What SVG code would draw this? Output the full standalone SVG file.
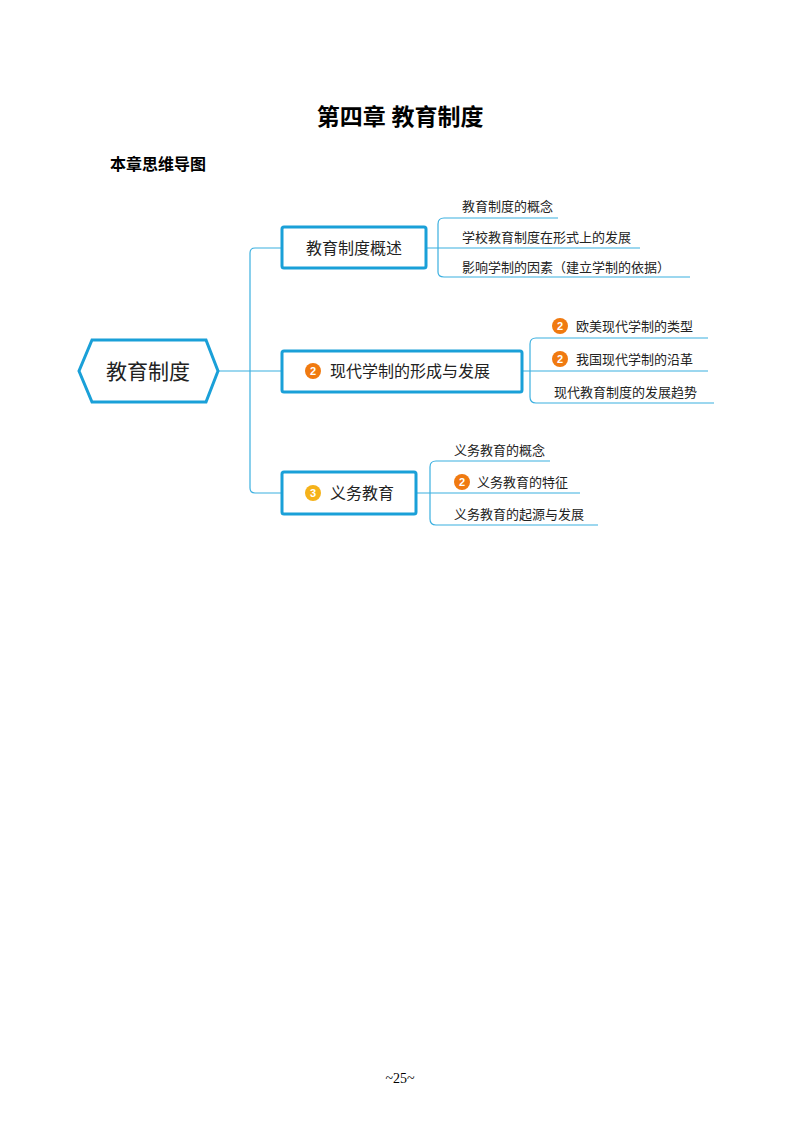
<svg xmlns="http://www.w3.org/2000/svg" width="800" height="1132" viewBox="0 0 800 1132">
<style>
.t{font-family:"Noto Sans CJK SC","Noto Sans",sans-serif;fill:#222}
.s{font-family:"Liberation Serif","Noto Sans CJK SC",serif;font-weight:bold;fill:#000}
.box{fill:#fff;stroke:#1aa0d8;stroke-width:3}
.ln{fill:none;stroke:#3bb0e0;stroke-width:1.2}
.bd{font-family:"Liberation Sans",sans-serif;font-size:11px;font-weight:bold;fill:#fff}
</style>
<rect width="800" height="1132" fill="#fff"/>
<text class="s" x="400" y="125" font-size="23" text-anchor="middle">第四章  教育制度</text>
<text class="s" x="110" y="170" font-size="16">本章思维导图</text>
<text x="400" y="1083" font-size="14" text-anchor="middle" font-family="Liberation Serif,serif">~25~</text>
<g id="connectors" class="ln">
<path d="M218 371H250M250 253Q250 248 255 248H282M250 488Q250 493 255 493H282M250 253V488M250 371H282"/>
<path d="M426 248H438M558 218H444Q438 218 438 224V272Q438 277 444 277H690M438 248H640"/>
<path d="M522 371H530M708 338H536Q530 338 530 344V397Q530 403 536 403H714M530 371H708"/>
<path d="M416 493H430M550 461H436Q430 461 430 467V519Q430 525 436 525H598M430 493H580"/>
</g>
<g id="root"><polygon class="box" points="92,340 206,340 218,371 206,402 92,402 79,371"/><text class="t" x="148" y="379" font-size="21" text-anchor="middle">教育制度</text></g>
<g id="n1"><rect class="box" x="282" y="227" width="144" height="41" rx="2"/><text class="t" x="354" y="254" font-size="16" text-anchor="middle">教育制度概述</text></g>
<g id="n2"><rect class="box" x="282" y="351" width="240" height="41" rx="2"/><circle cx="313" cy="371" r="8" fill="#f07a10"/><text class="bd" x="313" y="375" text-anchor="middle">2</text><text class="t" x="330" y="377" font-size="16">现代学制的形成与发展</text></g>
<g id="n3"><rect class="box" x="282" y="472" width="134" height="42" rx="2"/><circle cx="313" cy="493" r="8" fill="#f5b21a"/><text class="bd" x="313" y="497" text-anchor="middle">3</text><text class="t" x="330" y="499" font-size="16">义务教育</text></g>
<g id="leaves" class="t" font-size="13">
<text x="462" y="211">教育制度的概念</text>
<text x="462" y="242">学校教育制度在形式上的发展</text>
<text x="462" y="272">影响学制的因素（建立学制的依据）</text>
<circle cx="560" cy="326" r="8" fill="#f07a10"/><text class="bd" x="560" y="330" text-anchor="middle">2</text>
<text x="576" y="331">欧美现代学制的类型</text>
<circle cx="560" cy="359" r="8" fill="#f07a10"/><text class="bd" x="560" y="363" text-anchor="middle">2</text>
<text x="576" y="364">我国现代学制的沿革</text>
<text x="554" y="397">现代教育制度的发展趋势</text>
<text x="454" y="455">义务教育的概念</text>
<circle cx="462" cy="482" r="8" fill="#f07a10"/><text class="bd" x="462" y="486" text-anchor="middle">2</text>
<text x="477" y="487">义务教育的特征</text>
<text x="454" y="519">义务教育的起源与发展</text>
</g>
</svg>
